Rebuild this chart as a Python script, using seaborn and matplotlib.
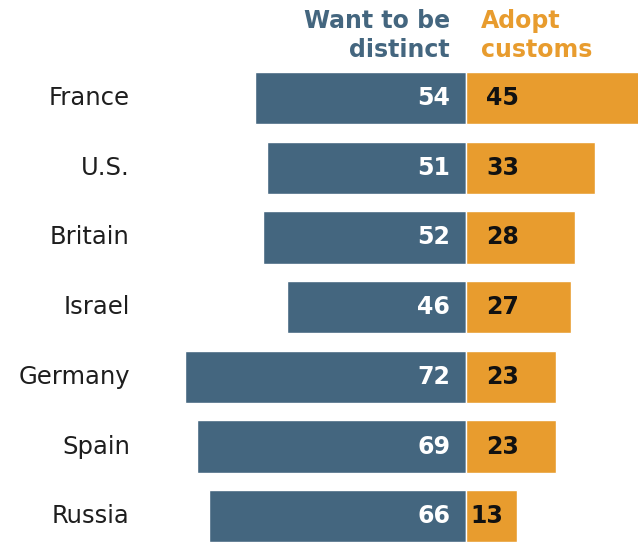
import matplotlib
matplotlib.use("Agg")
import matplotlib.pyplot as plt
import seaborn as sns
import pandas as pd

countries = ["France", "U.S.", "Britain", "Israel", "Germany", "Spain", "Russia"]
distinct = [54, 51, 52, 46, 72, 69, 66]
adopt = [45, 33, 28, 27, 23, 23, 13]
header_left = "Want to be\ndistinct"
header_right = "Adopt\ncustoms"

BLUE = "#44667f"
ORANGE = "#e89c2e"

sns.set_theme(style="white")
plt.rcParams["font.family"] = ["DejaVu Sans"]

df = pd.DataFrame({"country": countries,
                   "distinct": [-v for v in distinct],
                   "adopt": adopt})

fig = plt.figure(figsize=(6.38, 5.42), dpi=100)
ax = fig.add_axes([0, 0, 1, 1])

sns.barplot(data=df, x="distinct", y="country", order=countries, orient="h",
            color=BLUE, width=0.75, saturation=1, ax=ax)
sns.barplot(data=df, x="adopt", y="country", order=countries, orient="h",
            color=ORANGE, width=0.75, saturation=1, ax=ax)

ax.set_xlim(-119.5, 44.1)
ax.set_ylim(6.37, -1.406)
ax.axis("off")

for i, (c, d, a) in enumerate(zip(countries, distinct, adopt)):
    ax.text(-86.2, i, c, ha="right", va="center", fontsize=17.5, color="#1e1e1e")
    ax.text(-4.1, i, str(d), ha="right", va="center", fontsize=17,
            fontweight="bold", color="white")
    pad = 1.0 if a < 15 else 5.2
    ax.text(pad, i, str(a), ha="left", va="center", fontsize=17,
            fontweight="bold", color="#111111")

ax.text(-4.1, -0.90, header_left, ha="right", va="center", fontsize=17,
        fontweight="bold", color=BLUE, linespacing=1.25)
ax.text(3.8, -0.90, header_right, ha="left", va="center", fontsize=17,
        fontweight="bold", color=ORANGE, linespacing=1.25)

fig.savefig("out.png", dpi=100)
